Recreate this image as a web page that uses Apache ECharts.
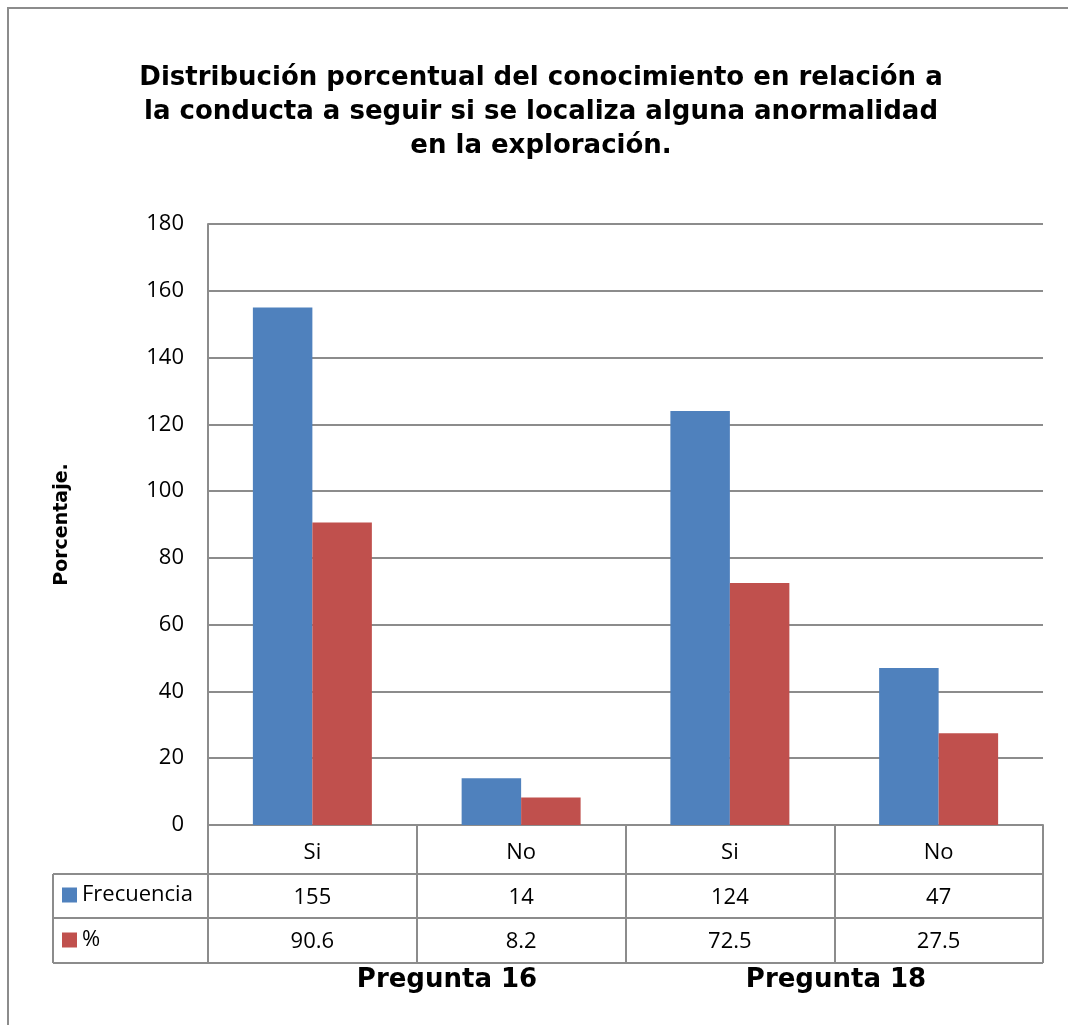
<!DOCTYPE html>
<html>
<head>
<meta charset="utf-8">
<script src="https://cdn.jsdelivr.net/npm/echarts@6/dist/echarts.min.js"></script>
<style>
  html, body { margin: 0; padding: 0; background: #fff; }
  #chart { width: 1068px; height: 1025px; }
</style>
</head>
<body>
<div id="chart"></div>
<script>
var categorias = ['Si', 'No', 'Si', 'No'];
var frecuencia = [155, 14, 124, 47];
var porcentaje = [90.6, 8.2, 72.5, 27.5];
var yTicks = { min: 0, max: 180, interval: 20 };
var grupos = ['Pregunta 16', 'Pregunta 18'];

var gris = '#8c8c8c';
var fuente = '"Open Sans", "Liberation Sans", sans-serif';
var fuenteBold = '"DejaVu Sans", Verdana, sans-serif';

var myChart = echarts.init(document.getElementById('chart'));

function tablaEje(datos, offset, tick, margen) {
    return {
        type: 'category',
        gridIndex: 0,
        position: 'bottom',
        offset: offset,
        data: datos.map(String),
        axisLine: { show: true, lineStyle: { color: gris, width: 2 } },
        axisTick: { show: true, length: tick, interval: 0, lineStyle: { color: gris, width: 2 } },
        axisLabel: { margin: margen, fontSize: 22, color: '#000', fontFamily: fuente, interval: 0 }
    };
}

var option = {
    animation: false,
    grid: { left: 208, right: 25, top: 224, bottom: 200 },
    legend: {
        orient: 'vertical',
        left: 62,
        top: 884,
        padding: 0,
        itemWidth: 15,
        itemHeight: 15,
        itemGap: 23,
        icon: 'rect',
        textStyle: { fontSize: 22, color: '#000', fontFamily: fuente },
        data: ['Frecuencia', '%']
    },
    xAxis: [
        tablaEje(categorias, 0, 49, 17),
        tablaEje(frecuencia, 49, 44, 13),
        tablaEje(porcentaje, 93, 45, 13)
    ],
    yAxis: {
        type: 'value',
        min: yTicks.min,
        max: yTicks.max,
        interval: yTicks.interval,
        axisLine: { show: true, lineStyle: { color: gris, width: 2 } },
        axisTick: { show: false },
        axisLabel: { fontSize: 22, color: '#000', margin: 24, fontFamily: fuente },
        splitLine: { lineStyle: { color: gris, width: 2 } }
    },
    series: [
        {
            name: 'Frecuencia',
            type: 'bar',
            data: frecuencia,
            barGap: '0%',
            barCategoryGap: '43%',
            itemStyle: { color: '#4F81BD' }
        },
        {
            name: '%',
            type: 'bar',
            data: porcentaje,
            itemStyle: { color: '#C0504D' }
        }
    ]
};

myChart.setOption(option);

// lineas de la tabla de datos fuera del area de la grilla
var x0 = myChart.convertToPixel({ xAxisIndex: 0 }, 0) - 104.4;
var yBase = myChart.convertToPixel({ yAxisIndex: 0 }, 0);
var xFin = myChart.convertToPixel({ xAxisIndex: 0 }, 3) + 104.4;
var filas = [yBase + 49, yBase + 93, yBase + 138];
var linea = { stroke: gris, lineWidth: 2 };

myChart.setOption({
    graphic: [
        { type: 'rect', shape: { x: 8, y: 8, width: 1100, height: 1100 }, style: { fill: 'none', stroke: gris, lineWidth: 2 } },
        {
            type: 'text', x: 541, y: 61,
            style: {
                text: 'Distribución porcentual del conocimiento en relación a\nla conducta a seguir si se localiza alguna anormalidad\nen la exploración.',
                font: 'bold 26px ' + fuenteBold, fill: '#000', align: 'center', lineHeight: 34
            }
        },
        {
            type: 'text', x: 62, y: (224 + yBase) / 2, rotation: Math.PI / 2,
            style: { text: 'Porcentaje.', font: 'bold 19px ' + fuenteBold, fill: '#000', align: 'center', verticalAlign: 'middle' }
        },
        { type: 'line', shape: { x1: 53, y1: filas[0], x2: x0, y2: filas[0] }, style: linea },
        { type: 'line', shape: { x1: 53, y1: filas[1], x2: x0, y2: filas[1] }, style: linea },
        { type: 'line', shape: { x1: 53, y1: filas[2], x2: xFin, y2: filas[2] }, style: linea },
        { type: 'line', shape: { x1: 53, y1: filas[0], x2: 53, y2: filas[2] }, style: linea },
        {
            type: 'text', x: 447, y: 980,
            style: { text: grupos[0], font: 'bold 26px ' + fuenteBold, fill: '#000', align: 'center', verticalAlign: 'middle' }
        },
        {
            type: 'text', x: 836, y: 980,
            style: { text: grupos[1], font: 'bold 26px ' + fuenteBold, fill: '#000', align: 'center', verticalAlign: 'middle' }
        }
    ]
});
</script>
</body>
</html>
